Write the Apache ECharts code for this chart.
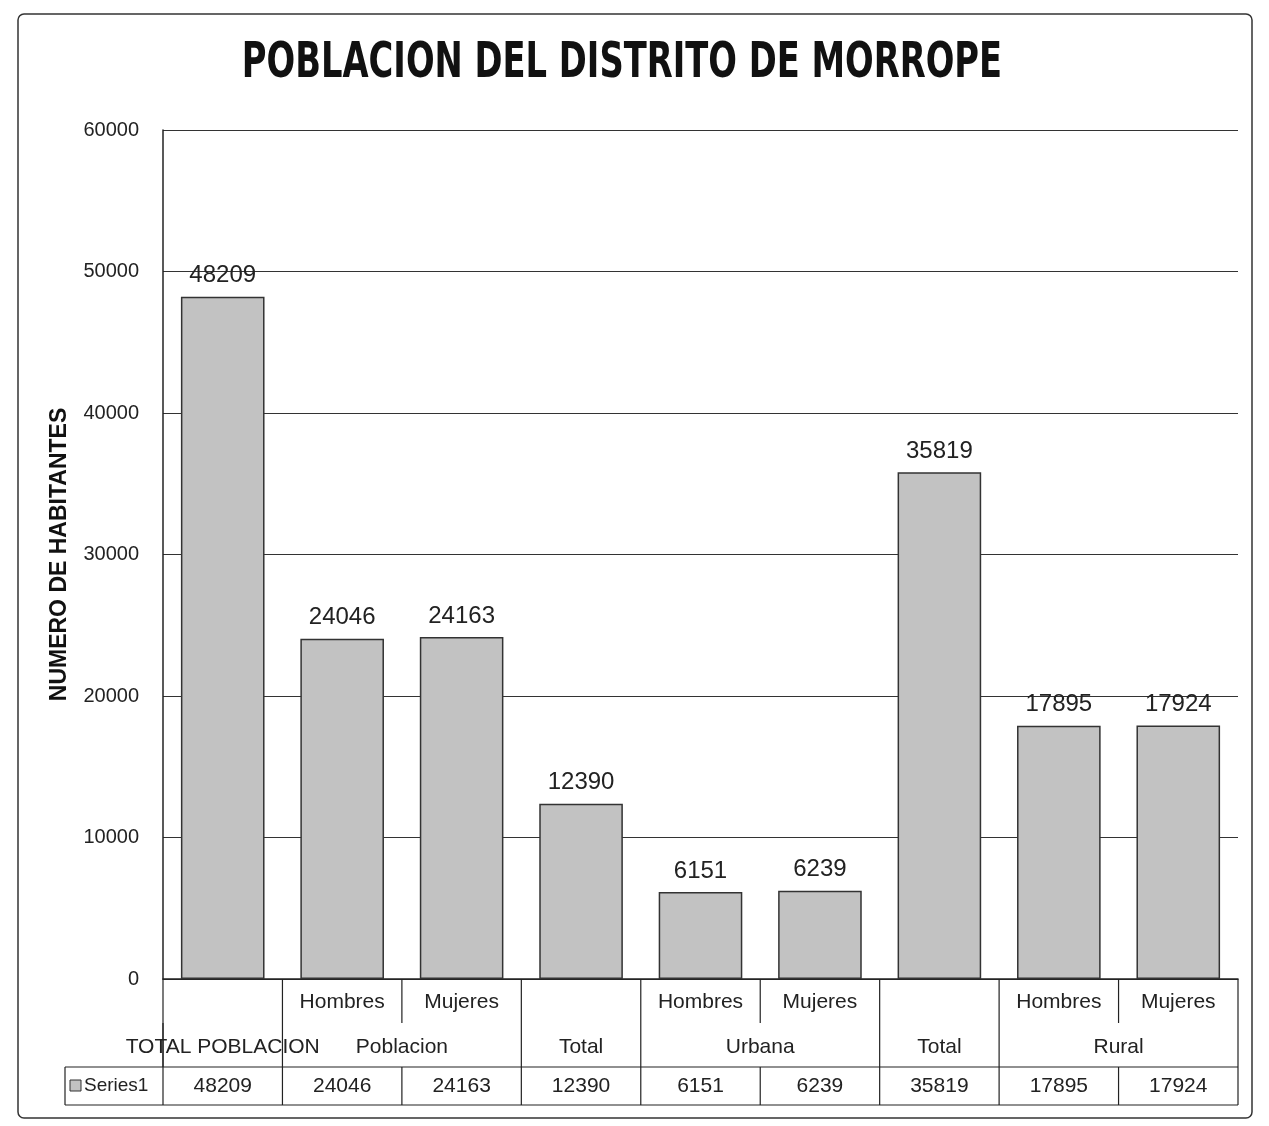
<!DOCTYPE html>
<html>
<head>
<meta charset="utf-8">
<script src="https://cdn.jsdelivr.net/npm/echarts@6/dist/echarts.min.js"></script>
<style>
  html, body { margin: 0; padding: 0; background: #fff; }
  #chart { width: 1269px; height: 1126px; }
</style>
</head>
<body>
<div id="chart"></div>
<script>
// datos del grafico
var values = [48209, 24046, 24163, 12390, 6151, 6239, 35819, 17895, 17924];
var subLabels = ['', 'Hombres', 'Mujeres', '', 'Hombres', 'Mujeres', '', 'Hombres', 'Mujeres'];
var groupNames = ['TOTAL POBLACION', 'Poblacion', 'Total', 'Urbana', 'Total', 'Rural'];
var groupStart = [0, 1, 3, 4, 6, 7];
var groupEnd = [0, 2, 3, 5, 6, 8];
var yTicks = [0, 10000, 20000, 30000, 40000, 50000, 60000];
var seriesName = 'Series1';
var titleText = 'POBLACION DEL DISTRITO DE MORROPE';

var font = "'Liberation Sans', Arial, sans-serif";
var narrow = "'Liberation Sans Narrow', 'DejaVu Sans Condensed', 'Liberation Sans', sans-serif";
var ink = '#222';

var myChart = echarts.init(document.getElementById('chart'));
myChart.setOption({
    backgroundColor: '#fff',
    animation: false,
    grid: { left: 163, right: 31, top: 130, bottom: 147 },
    xAxis: [
        {
            type: 'category',
            data: subLabels,
            axisLine: { lineStyle: { color: ink, width: 1.5 } },
            axisTick: { show: false },
            axisLabel: { interval: 0, margin: 13, fontFamily: font, fontSize: 21, color: ink }
        },
        {
            type: 'category',
            position: 'bottom',
            offset: 85,
            data: values.map(function (v) { return String(v); }),
            axisLine: { show: false },
            axisTick: { show: false },
            axisLabel: { interval: 0, margin: 12, fontFamily: font, fontSize: 21, color: ink }
        }
    ],
    yAxis: {
        type: 'value',
        min: yTicks[0],
        max: yTicks[yTicks.length - 1],
        interval: 10000,
        name: 'NUMERO DE HABITANTES',
        nameLocation: 'middle',
        nameRotate: 90,
        nameGap: 92,
        nameTextStyle: { fontFamily: font, fontWeight: 'bold', fontSize: 23, color: '#111' },
        axisLine: { show: true, lineStyle: { color: ink, width: 1.5 } },
        axisTick: { show: false },
        axisLabel: {
            margin: 24, fontFamily: font, fontSize: 20, color: ink,
            formatter: function (v) { return String(v); }
        },
        splitLine: { lineStyle: { color: '#333', width: 1.2 } }
    },
    series: [{
        name: seriesName,
        type: 'bar',
        xAxisIndex: 0,
        barWidth: '70%',
        data: values,
        itemStyle: { color: '#c2c2c2', borderColor: '#333', borderWidth: 1.5 },
        label: {
            show: true,
            position: 'top',
            distance: 9,
            fontFamily: font,
            fontSize: 24,
            color: ink
        }
    }]
});

// tabla de datos debajo del eje
var c0 = myChart.convertToPixel({ xAxisIndex: 0 }, 0);
var c1 = myChart.convertToPixel({ xAxisIndex: 0 }, 1);
var step = c1 - c0;
function b(i) { return c0 - step / 2 + i * step; }
var yAxisY = myChart.convertToPixel({ yAxisIndex: 0 }, 0);
var row1 = yAxisY + 44, row2 = yAxisY + 88, row3 = yAxisY + 126;
var tableLeft = 65;
var line = { stroke: ink, lineWidth: 1.2 };

var g = [];
// titulo (comprimido como Calibri)
g.push({
    type: 'text', x: 622, y: 64, scaleX: 0.75, originX: 0, originY: 0,
    style: { text: titleText, fontFamily: narrow, fontWeight: 'bold', fontSize: 50, fill: '#111', align: 'center', verticalAlign: 'middle' }
});
// lineas horizontales
g.push({ type: 'line', shape: { x1: tableLeft, y1: row2, x2: b(9), y2: row2 }, style: line });
g.push({ type: 'line', shape: { x1: tableLeft, y1: row3, x2: b(9), y2: row3 }, style: line });
// separadores de la fila de subcategorias
for (var i = 0; i <= 9; i++) {
    g.push({ type: 'line', shape: { x1: b(i), y1: yAxisY, x2: b(i), y2: row1 }, style: line });
}
// separadores de grupos
var edges = [0, 9];
groupStart.forEach(function (s) { edges.push(s); });
edges.forEach(function (e) {
    g.push({ type: 'line', shape: { x1: b(e), y1: row1, x2: b(e), y2: row2 }, style: line });
});
// fila de valores
g.push({ type: 'line', shape: { x1: tableLeft, y1: row2, x2: tableLeft, y2: row3 }, style: line });
for (var k = 0; k <= 9; k++) {
    g.push({ type: 'line', shape: { x1: b(k), y1: row2, x2: b(k), y2: row3 }, style: line });
}
// nombres de grupo
groupNames.forEach(function (name, j) {
    var x = (b(groupStart[j]) + b(groupEnd[j] + 1)) / 2;
    g.push({
        type: 'text', x: x, y: (row1 + row2) / 2 + 2,
        style: { text: name, fontFamily: font, fontSize: 21, fill: ink, align: 'center', verticalAlign: 'middle' }
    });
});
// leyenda dentro de la tabla
var midRow3 = (row2 + row3) / 2;
g.push({ type: 'rect', shape: { x: 70, y: midRow3 - 6, width: 11, height: 11 }, style: { fill: '#c2c2c2', stroke: '#333', lineWidth: 1 } });
g.push({
    type: 'text', x: 84, y: midRow3,
    style: { text: seriesName, fontFamily: font, fontSize: 19, fill: ink, align: 'left', verticalAlign: 'middle' }
});
// borde del grafico
g.push({ type: 'rect', shape: { x: 18, y: 14, width: 1234, height: 1104, r: 6 }, style: { fill: 'none', stroke: '#333', lineWidth: 1.5 } });

myChart.setOption({ graphic: g });
</script>
</body>
</html>
